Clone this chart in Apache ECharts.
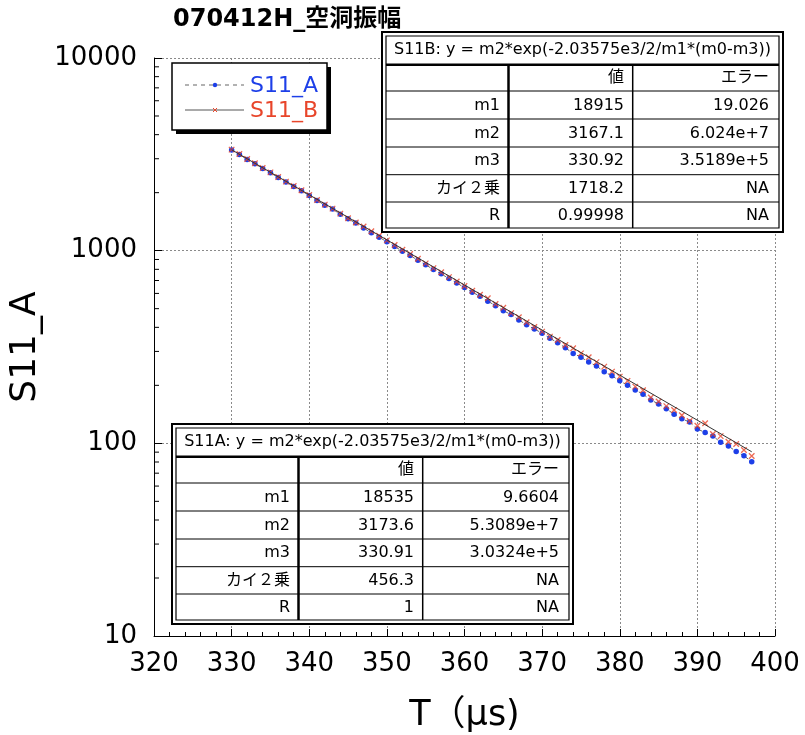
<!DOCTYPE html>
<html>
<head>
<meta charset="utf-8">
<script src="https://cdn.jsdelivr.net/npm/echarts@6/dist/echarts.min.js"></script>
<style>
html,body{margin:0;padding:0;background:#fff;}
#chart{width:805px;height:735px;}
</style>
</head>
<body>
<div id="chart"></div>
<script>
// ---------- data ----------
const chartTitle = '070412H_空洞振幅';
const xName = 'T（μs)';
const yName = 'S11_A';
const xTicks = [320, 330, 340, 350, 360, 370, 380, 390, 400];
const yTicks = [10, 100, 1000, 10000];
const yMinorTicks = [20, 30, 40, 50, 60, 70, 80, 90,
  200, 300, 400, 500, 600, 700, 800, 900,
  2000, 3000, 4000, 5000, 6000, 7000, 8000, 9000];

const T = [330,331,332,333,334,335,336,337,338,339,340,341,342,343,344,345,346,
  347,348,349,350,351,352,353,354,355,356,357,358,359,360,361,362,
  363,364,365,366,367,368,369,370,371,372,373,374,375,376,377,378,379,380,
  381,382,383,384,385,386,387,388,389,390,391,392,393,394,395,396,397];

const s11A = [3327,3157,2974,2825,2670,2537,2397,2269,2153,2045,1933,1821,1723,1643,1547,1463,1390,
  1310,1238,1175,1111,1050,994,943,892,844,798,758,716,680,643,609,580,
  547,518,488,466,437,412,392,373,351,333,313,293,280,264,252,235,224,211,
  200,189,180,168,160,151,141.5,134,129,118.7,113.8,109.1,101.2,96.8,90.7,86.2,80.3];

const s11B = [3345,3175,2990,2840,2685,2550,2410,2282,2165,2057,1945,1832,1733,1653,1557,1472,1400,
  1334,1260,1196,1131,1069,1012,960,908,859,812,772,729,692,655,620,591,
  566,529,505,474,451,425,402,380,358,344,324,311.5,293,280,264,250,235.5,222,
  211,197,188.5,173,165,156,149,140,130.6,123.4,127,111.8,109,102,99.2,92.3,85.9];

const fitT = [330, 397];
const fitB = [3340, 90.4];

const legendNames = ['S11_A', 'S11_B'];

const tableBTitle = 'S11B: y = m2*exp(-2.03575e3/2/m1*(m0-m3))';
const tableATitle = 'S11A: y = m2*exp(-2.03575e3/2/m1*(m0-m3))';
const tableHeader = ['', '値', 'エラー'];
const tableBRows = [
  ['m1', '18915', '19.026'],
  ['m2', '3167.1', '6.024e+7'],
  ['m3', '330.92', '3.5189e+5'],
  ['カイ２乗', '1718.2', 'NA'],
  ['R', '0.99998', 'NA']
];
const tableARows = [
  ['m1', '18535', '9.6604'],
  ['m2', '3173.6', '5.3089e+7'],
  ['m3', '330.91', '3.0324e+5'],
  ['カイ２乗', '456.3', 'NA'],
  ['R', '1', 'NA']
];

// ---------- styling ----------
const FONT = '"DejaVu Sans", "Noto Sans CJK JP", sans-serif';
const BLUE = '#1d3fe8';
const RED = '#e8452a';

function zip(xs, ys) { return xs.map((x, i) => [x, ys[i]]); }

function makeTable(x0, y0, title, header, rows) {
  const els = [];
  const W = 401, H = 200, z = 100;
  els.push({type:'rect', z, shape:{x:x0, y:y0, width:W, height:H}, style:{fill:'#fff', stroke:'#000', lineWidth:2}});
  els.push({type:'rect', z, shape:{x:x0+4, y:y0+4, width:W-8, height:H-8}, style:{fill:'none', stroke:'#000', lineWidth:1.2}});
  els.push({type:'line', z, shape:{x1:x0+4, y1:y0+32.7, x2:x0+W-4, y2:y0+32.7}, style:{stroke:'#000', lineWidth:2.5}});
  const rowLines = [59, 87, 115, 142.7, 170];
  rowLines.forEach(r => els.push({type:'line', z, shape:{x1:x0+4, y1:y0+r, x2:x0+W-4, y2:y0+r}, style:{stroke:'#000', lineWidth:1}}));
  els.push({type:'line', z, shape:{x1:x0+126.5, y1:y0+32.7, x2:x0+126.5, y2:y0+H-4}, style:{stroke:'#000', lineWidth:2.5}});
  els.push({type:'line', z, shape:{x1:x0+250.7, y1:y0+32.7, x2:x0+250.7, y2:y0+H-4}, style:{stroke:'#000', lineWidth:1.5}});
  els.push({type:'text', z:z+1, x:x0+W/2, y:y0+18, style:{text:title, font:'16px ' + FONT, fill:'#000', align:'center', verticalAlign:'middle'}});
  const colRight = [118, 242, 387];
  const rowCenters = [46, 73.5, 101.5, 129, 156.5, 184];
  const allRows = [header].concat(rows);
  allRows.forEach((row, ri) => {
    row.forEach((cell, ci) => {
      if (!cell) return;
      els.push({type:'text', z:z+1, x:x0+colRight[ci], y:y0+rowCenters[ri],
        style:{text:cell, font:'16px ' + FONT, fill:'#000', align:'right', verticalAlign:'middle'}});
    });
  });
  return els;
}

function makeLegend() {
  const els = [];
  const z = 100;
  els.push({type:'rect', z, shape:{x:176, y:67, width:155, height:67}, style:{fill:'#000'}});
  els.push({type:'rect', z, shape:{x:172, y:63, width:155, height:67}, style:{fill:'#fff', stroke:'#000', lineWidth:1.5}});
  els.push({type:'line', z, shape:{x1:185, y1:85, x2:244, y2:85}, style:{stroke:'#666', lineWidth:1, lineDash:[4,4]}});
  els.push({type:'circle', z:z+1, shape:{cx:215, cy:85, r:2.2}, style:{fill:BLUE}});
  els.push({type:'text', z, x:250, y:86, style:{text:legendNames[0], font:'22px ' + FONT, fill:BLUE, verticalAlign:'middle'}});
  els.push({type:'line', z, shape:{x1:185, y1:110, x2:244, y2:110}, style:{stroke:'#555', lineWidth:1}});
  els.push({type:'line', z:z+1, shape:{x1:213, y1:108, x2:217, y2:112}, style:{stroke:RED, lineWidth:1}});
  els.push({type:'line', z:z+1, shape:{x1:217, y1:108, x2:213, y2:112}, style:{stroke:RED, lineWidth:1}});
  els.push({type:'text', z, x:250, y:111, style:{text:legendNames[1], font:'22px ' + FONT, fill:RED, verticalAlign:'middle'}});
  return els;
}

const chart = echarts.init(document.getElementById('chart'));

const gridLine = {show:true, lineStyle:{color:'#8a8a8a', type:[2,2], width:1}};

const option = {
  animation: false,
  backgroundColor: '#fff',
  grid: {left:154, right:30, top:58, bottom:99, containLabel:false, outerBoundsMode:'none'},
  xAxis: {
    type:'value', min:320, max:400, interval:10,
    name:xName, nameLocation:'middle', nameGap:62,
    nameTextStyle:{fontSize:35, color:'#000', fontFamily:FONT},
    axisLine:{show:true, onZero:false, lineStyle:{color:'#000', width:1}},
    axisTick:{show:true, inside:true, length:7, lineStyle:{color:'#000'}},
    minorTick:{show:true, splitNumber:5, length:4, lineStyle:{color:'#000'}},
    axisLabel:{fontSize:26, color:'#000', margin:15, fontFamily:FONT,
      formatter: v => xTicks.includes(v) ? String(v) : ''},
    splitLine:gridLine
  },
  yAxis: {
    type:'log', logBase:10, min:yTicks[0], max:yTicks[yTicks.length-1],
    name:yName, nameLocation:'middle', nameGap:103, nameRotate:90,
    nameTextStyle:{fontSize:36, color:'#000', fontFamily:FONT},
    axisLine:{show:true, onZero:false, lineStyle:{color:'#000', width:1}},
    axisTick:{show:true, inside:true, length:8, lineStyle:{color:'#000'}},
    axisLabel:{fontSize:26, color:'#000', margin:17, fontFamily:FONT,
      formatter: v => yTicks.includes(Math.round(v)) ? String(Math.round(v)) : ''},
    splitLine:gridLine
  },
  series: [
    {
      name:'yMinorTicks', type:'custom', silent:true, clip:false, z:3,
      data: yMinorTicks.map(v => [xTicks[0], v]),
      encode:{x:0, y:1},
      renderItem: function (params, api) {
        const p = api.coord([api.value(0), api.value(1)]);
        return {type:'line', shape:{x1:p[0], y1:p[1], x2:p[0]+5, y2:p[1]}, style:{stroke:'#000', lineWidth:1}};
      }
    },
    {
      name:legendNames[0], type:'line', data: zip(T, s11A), z:4,
      symbol:'circle', symbolSize:5.5, showSymbol:true,
      itemStyle:{color:BLUE},
      lineStyle:{color:'#666', width:1, type:[3,3]}
    },
    {
      name:legendNames[1], type:'scatter', data: zip(T, s11B), z:5,
      symbol:'path://M0,0L10,10M10,0L0,10', symbolSize:5.5,
      itemStyle:{color:'none', borderColor:RED, borderWidth:1.3}
    },
    {
      name:'fitB', type:'line', data: zip(fitT, fitB), z:6,
      symbol:'none', lineStyle:{color:'#333', width:1}
    }
  ],
  graphic: [
    {type:'text', z:50, left:173, top:8, style:{text:chartTitle, font:'bold 24px ' + FONT, fill:'#000'}}
  ].concat(makeTable(382, 32, tableBTitle, tableHeader, tableBRows))
   .concat(makeTable(172, 424, tableATitle, tableHeader, tableARows))
   .concat(makeLegend())
};

chart.setOption(option);
</script>
</body>
</html>
